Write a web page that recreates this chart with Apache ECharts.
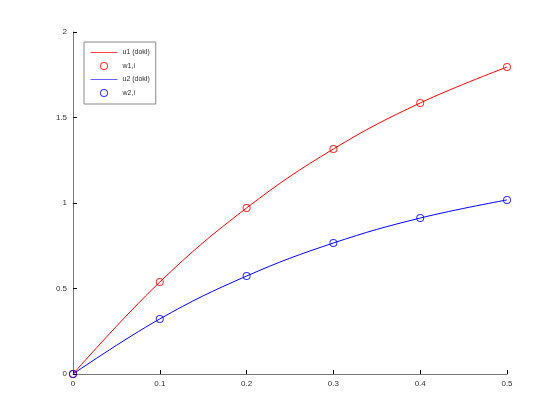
<!DOCTYPE html>
<html>
<head>
<meta charset="utf-8">
<script src="https://cdn.jsdelivr.net/npm/echarts@6/dist/echarts.min.js"></script>
<style>html,body{margin:0;padding:0;background:#fff;}#c{width:560px;height:420px;}</style>
</head>
<body>
<div id="c"></div>
<script>
var xValues = [0, 0.1, 0.2, 0.3, 0.4, 0.5];
var u1Exact = [0, 0.538, 0.971, 1.316, 1.585, 1.795];
var w1 = [0, 0.538, 0.971, 1.316, 1.585, 1.795];
var u2Exact = [0, 0.322, 0.573, 0.766, 0.912, 1.018];
var w2 = [0, 0.322, 0.573, 0.766, 0.912, 1.018];
var seriesNames = ['u1 (dokł)', 'w1,i', 'u2 (dokł)', 'w2,i'];

function pairs(xs, ys) { return xs.map(function (x, i) { return [x, ys[i]]; }); }

var ringPath = 'path://M8,0A8,8 0 1,1 8,16A8,8 0 1,1 8,0Z M8,2A6,6 0 1,0 8,14A6,6 0 1,0 8,2Z';

var chart = echarts.init(document.getElementById('c'), null, { renderer: 'canvas' });
var txt = { fontFamily: 'Liberation Sans', fontSize: 8, color: '#333' };
chart.setOption({
  animation: false,
  backgroundColor: '#fff',
  grid: { left: 73, right: 53, top: 32, bottom: 46 },
  legend: {
    left: 84, top: 42, orient: 'vertical',
    backgroundColor: '#fff',
    borderColor: '#888', borderWidth: 1,
    padding: [7, 6, 7, 6],
    itemWidth: 27, itemHeight: 8, itemGap: 6,
    textStyle: { fontFamily: 'Liberation Sans', fontSize: 7, color: '#333' },
    data: [
      { name: seriesNames[0], itemStyle: { opacity: 0 }, lineStyle: { width: 1, color: 'rgb(255,70,70)' } },
      { name: seriesNames[1] },
      { name: seriesNames[2], itemStyle: { opacity: 0 }, lineStyle: { width: 1, color: 'rgb(100,100,255)' } },
      { name: seriesNames[3] }
    ]
  },
  xAxis: {
    type: 'value', min: 0, max: 0.5, interval: 0.1,
    axisLine: { lineStyle: { color: '#777', width: 1 } },
    axisTick: { inside: true, length: 4, lineStyle: { color: '#000' } },
    axisLabel: Object.assign({ margin: 6 }, txt),
    splitLine: { show: false }
  },
  yAxis: {
    type: 'value', min: 0, max: 2, interval: 0.5,
    axisLine: { show: true, lineStyle: { color: '#777', width: 1 } },
    axisTick: { show: true, inside: true, length: 4, lineStyle: { color: '#000' } },
    axisLabel: Object.assign({ margin: 6 }, txt),
    splitLine: { show: false }
  },
  series: [
    { name: seriesNames[0], type: 'line', data: pairs(xValues, u1Exact), smooth: 0.4, symbol: 'none',
      color: 'rgb(255,0,0)',
      lineStyle: { color: 'rgb(255,0,0)', width: 1 }, itemStyle: { color: 'rgb(255,0,0)' } },
    { name: seriesNames[1], type: 'scatter', data: pairs(xValues, w1), symbol: ringPath, symbolSize: 8,
      itemStyle: { color: 'rgb(255,0,0)' } },
    { name: seriesNames[2], type: 'line', data: pairs(xValues, u2Exact), smooth: 0.4, symbol: 'none',
      color: 'rgb(0,0,255)',
      lineStyle: { color: 'rgb(0,0,255)', width: 1 }, itemStyle: { color: 'rgb(0,0,255)' } },
    { name: seriesNames[3], type: 'scatter', data: pairs(xValues, w2), symbol: ringPath, symbolSize: 8,
      itemStyle: { color: 'rgb(0,0,255)' } }
  ]
});
</script>
</body>
</html>
